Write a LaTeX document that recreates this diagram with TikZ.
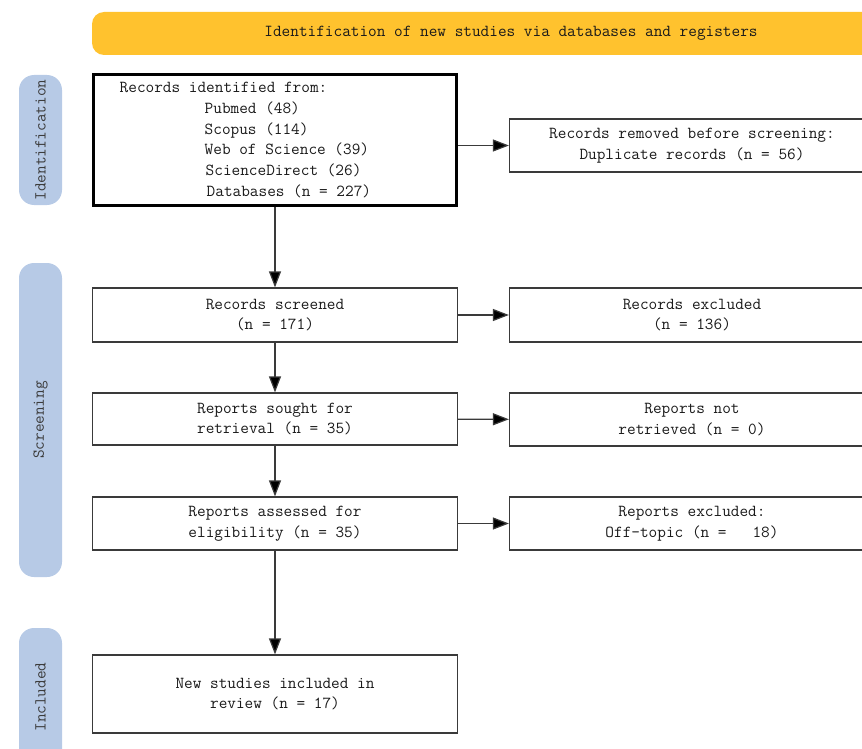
\documentclass[tikz,border=0pt]{standalone}
\usepackage{fontspec}
\usetikzlibrary{positioning,arrows.meta}
\definecolor{ink}{HTML}{1A1A1A}
\definecolor{rule}{HTML}{3A3A3A}
\definecolor{banner}{HTML}{FFC22E}
\definecolor{tabblue}{HTML}{B7CAE6}
\newcommand\flowfont{\ttfamily\fontsize{16.8}{20.8}\selectfont}
\begin{document}
\begin{tikzpicture}[x=1pt,y=-1pt,
  every node/.style={font=\flowfont,text=ink},
  box/.style={draw=rule,line width=1.2pt,fill=white,minimum width=365pt,align=center,inner sep=0},
  tabbox/.style={fill=tabblue,rounded corners=15pt,minimum height=43pt,rotate=90,inner sep=0,text=ink!85},
  arr/.style={draw=rule,line width=1.2pt,-{Triangle[length=16pt,width=12pt,fill=black]}}]
  \clip (0,0) rectangle (862,749);
  % banner and phase tabs
  \node[fill=banner,rounded corners=12pt,minimum width=838pt,minimum height=43pt,inner sep=0] (head) at (511,33.5) {Identification of new studies via databases and registers};
  \node[tabbox,minimum width=130pt] (tabid) at (40.5,140) {Identification};
  \node[tabbox,minimum width=314pt] (tabsc) at (40.5,420) {Screening};
  \node[tabbox,minimum width=138pt] (tabin) at (40.5,697) {Included};
  % left column
  \node[draw=black,line width=3pt,fill=white,minimum width=363pt,minimum height=131pt] (ident) at (275,140) {};
  \node[anchor=west,align=left,inner sep=0] (identtxt) at ([xshift=27.5pt]ident.west)
    {Records identified from:\\
     \hspace*{85pt}Pubmed (48)\\
     \hspace*{85pt}Scopus (114)\\
     \hspace*{85pt}Web of Science (39)\\
     \hspace*{86pt}ScienceDirect (26)\\
     \hspace*{87pt}Databases (n = 227)};
  \node[box,minimum height=54pt] (screened) at (275,315) {Records screened\\(n = 171)};
  \node[box,minimum height=52pt] (sought) at (275,419) {Reports sought for\\retrieval (n = 35)};
  \node[box,minimum height=53pt] (assessed) at (275,523.5) {Reports assessed for\\eligibility (n = 35)};
  \node[box,minimum height=78pt] (included) at (275,694) {New studies included in\\review (n = 17)};
  % right column
  \node[box,minimum height=53pt] (removed) at (692,145.5) {Records removed before screening:\\Duplicate records (n = 56)};
  \node[box,minimum height=54pt] (excluded) at (692,315) {Records excluded\\(n = 136)};
  \node[box,minimum height=53pt] (notret) at (692,419.5) {Reports not\\retrieved (n = 0)};
  \node[box,minimum height=53pt] (offtopic) at (692,523.5) {Reports excluded:\\Off-topic (n =~~~18)};
  % connectors
  \draw[arr] (ident) -- (screened);
  \draw[arr] (screened) -- (sought);
  \draw[arr] (sought) -- (assessed);
  \draw[arr] (assessed) -- (included);
  \draw[arr] (removed.west -| ident.east) -- (removed.west);
  \draw[arr] (screened) -- (excluded);
  \draw[arr] (sought) -- (notret);
  \draw[arr] (assessed) -- (offtopic);
\end{tikzpicture}
\end{document}
